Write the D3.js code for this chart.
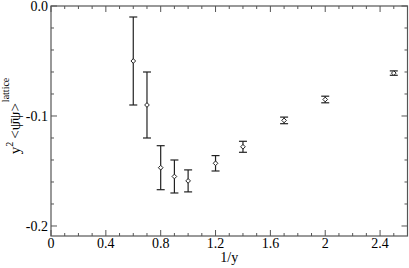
<!DOCTYPE html>
<html>
<head>
<meta charset="utf-8">
<script src="https://cdn.jsdelivr.net/npm/d3@7"></script>
<style>
  body { margin: 0; background: #fff; }
  text { font-family: "Liberation Serif", "Times New Roman", serif; fill: #000; }
</style>
</head>
<body>
<div id="chart"></div>
<script>
var invY = [0.6, 0.7, 0.8, 0.9, 1.0, 1.2, 1.4, 1.7, 2.0, 2.5]
var cond = [-0.050, -0.090, -0.147, -0.155, -0.159, -0.143, -0.128, -0.104, -0.085, -0.061]
var err = [0.040, 0.030, 0.020, 0.015, 0.010, 0.007, 0.005, 0.003, 0.003, 0.002]
var xTicks = [0, 0.4, 0.8, 1.2, 1.6, 2.0, 2.4]
var xTickLabels = ["0", "0.4", "0.8", "1.2", "1.6", "2", "2.4"]
var yTicks = [0, -0.1, -0.2]
var yTickLabels = ["0.0", "-0.1", "-0.2"]

var W = 409, H = 268
var pL = 51, pR = 407.5, pT = 6, pB = 236

var svg = d3.select("#chart").append("svg")
  .attr("width", W).attr("height", H)

var x = d3.scaleLinear().domain([0, 2.6]).range([pL, pR])
var y = d3.scaleLinear().domain([-0.2091, 0]).range([pB, pT])

var axisColor = "#555"

// frame
svg.append("rect").attr("x", pL).attr("y", pT)
  .attr("width", pR - pL).attr("height", pB - pT)
  .attr("fill", "none").attr("stroke", axisColor).attr("stroke-width", 1.2)

// ticks, mirrored on all four sides
var xMinor = d3.range(0, 26).map(function(i){ return i / 10 })
var yMinor = d3.range(0, 11).map(function(i){ return -i * 0.02 })
var g = svg.append("g").attr("stroke", axisColor).attr("stroke-width", 1)

xMinor.forEach(function(v, i){
  var len = (i % 4 == 0) ? 6 : 3
  g.append("line").attr("x1", x(v)).attr("x2", x(v)).attr("y1", pB).attr("y2", pB - len)
  g.append("line").attr("x1", x(v)).attr("x2", x(v)).attr("y1", pT).attr("y2", pT + len)
})
yMinor.forEach(function(v, i){
  var len = (i % 5 == 0) ? 6 : 3
  g.append("line").attr("x1", pL).attr("x2", pL + len).attr("y1", y(v)).attr("y2", y(v))
  g.append("line").attr("x1", pR).attr("x2", pR - len).attr("y1", y(v)).attr("y2", y(v))
})

// tick labels
svg.selectAll(".xl").data(xTicks).enter().append("text")
  .attr("x", function(d){ return x(d) }).attr("y", 248)
  .attr("text-anchor", "middle").attr("font-size", 14)
  .text(function(d, i){ return xTickLabels[i] })

svg.selectAll(".yl").data(yTicks).enter().append("text")
  .attr("x", 48).attr("y", function(d){ return y(d) })
  .attr("dy", "0.35em")
  .attr("text-anchor", "end").attr("font-size", 14)
  .text(function(d, i){ return yTickLabels[i] })

// axis titles
svg.append("text").attr("x", (pL + pR) / 2).attr("y", 262)
  .attr("text-anchor", "middle").attr("font-size", 14).text("1/y")

var yl = svg.append("text").attr("transform", "translate(20,116) rotate(-90)")
  .attr("text-anchor", "middle").attr("font-size", 15)
yl.append("tspan").text("y")
yl.append("tspan").attr("font-size", 10).attr("dy", -7).text("2")
yl.append("tspan").attr("dy", 7).attr("dx", 3).text("<\u03C8\u0304\u03C8>")
yl.append("tspan").attr("font-size", 10).attr("dy", -11).attr("dx", 1).text("lattice")

// error bars
var pts = invY.map(function(v, i){ return {x: v, y: cond[i], e: err[i]} })
var eb = svg.append("g").attr("stroke", "#222").attr("stroke-width", 1.2)
pts.forEach(function(p){
  var cx = x(p.x), y1 = y(p.y + p.e), y2 = y(p.y - p.e)
  eb.append("line").attr("x1", cx).attr("x2", cx).attr("y1", y1).attr("y2", y2)
  eb.append("line").attr("x1", cx - 4).attr("x2", cx + 4).attr("y1", y1).attr("y2", y1)
  eb.append("line").attr("x1", cx - 4).attr("x2", cx + 4).attr("y1", y2).attr("y2", y2)
})

// diamonds
svg.selectAll(".pt").data(pts).enter().append("path")
  .attr("d", d3.symbol().type(d3.symbolDiamond2).size(14))
  .attr("transform", function(d){ return "translate(" + x(d.x) + "," + y(d.y) + ")" })
  .attr("fill", "#fff").attr("stroke", "#222").attr("stroke-width", 1)
</script>
</body>
</html>
